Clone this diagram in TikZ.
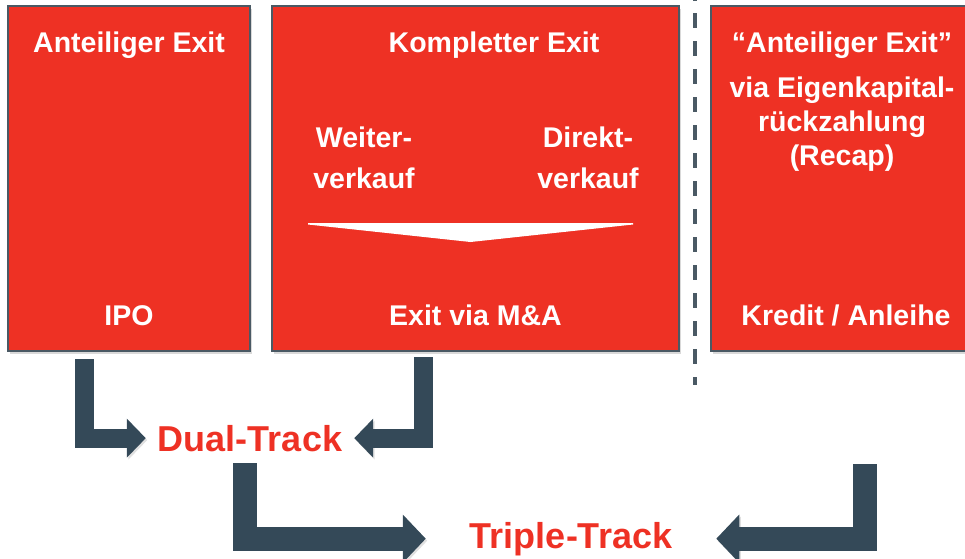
\documentclass[tikz,border=0pt]{standalone}
\usepackage{fontspec}
\setmainfont{Liberation Sans}
\usetikzlibrary{arrows.meta,shadows}

\definecolor{exitred}{RGB}{238,49,36}
\definecolor{exitframe}{RGB}{74,89,100}
\definecolor{trackblue}{RGB}{52,73,88}

\tikzset{
  exitbox/.style={draw=exitframe, line width=1.5pt, fill=exitred,
    minimum height=345pt,
    drop shadow={shadow xshift=1.5pt, shadow yshift=-2.5pt, opacity=0.3}},
  boxtext/.style={text=white, font=\fontsize{28.5}{34}\selectfont\bfseries,
    align=center, inner sep=0pt, anchor=base},
  tracktext/.style={text=exitred, font=\fontsize{36}{40}\selectfont\bfseries,
    inner ysep=0pt, anchor=base},
  track/.style={draw=trackblue, line width=19pt,
    -{Triangle[length=19pt,width=38pt]},
    preaction={draw=black!60, opacity=.2,
      transform canvas={shift={(1.5pt,-2pt)}}}},
  bigtrack/.style={track, line width=24pt,
    -{Triangle[length=23pt,width=47pt]}},
}

\begin{document}
\begin{tikzpicture}[x=1pt, y=-1pt]
  \useasboundingbox (0,0) rectangle (965,558);
  \clip (0,0) rectangle (965,558);

  % exit routes
  \node[exitbox, minimum width=242pt] (ipo) at (129,178.5) {};
  \node[exitbox, minimum width=407pt] (ma) at (475.5,178.5) {};
  \node[exitbox, minimum width=264pt] (recap) at (843,178.5) {};

  % divider
  \draw[exitframe, line width=4pt, dash pattern=on 15pt off 13pt,
    dash phase=14.7pt] (695,0) -- (695,385);

  \node[boxtext] (ipoTop) at ([yshift=-47pt]ipo.north) {Anteiliger Exit};
  \node[boxtext] (ipoBot) at ([yshift=26pt]ipo.south) {IPO};

  % multi-line texts sit on their last baseline
  \node[boxtext] (maTop) at ([xshift=18.5pt,yshift=-47pt]ma.north)
    {Kompletter Exit};
  \node[boxtext, font=\fontsize{28.5}{41}\selectfont\bfseries] (resale)
    at (364,188) {Weiter-\\verkauf};
  \node[boxtext, font=\fontsize{28.5}{41}\selectfont\bfseries] (direct)
    at (588,188) {Direkt-\\verkauf};
  \fill[white] (308,223) -- (633,223) -- (633,224.5) -- (470.5,242)
    -- (308,224.5) -- cycle;
  \node[boxtext] (maBot) at ([yshift=26pt]ma.south) {Exit via M\&A};

  \node[boxtext] (recapTop) at ([xshift=-1pt,yshift=-47pt]recap.north)
    {“Anteiliger Exit”};
  \node[boxtext] (recapMid) at (842,165)
    {via Eigenkapital-\\rückzahlung\\(Recap)};
  \node[boxtext] (recapBot) at ([xshift=3pt,yshift=26pt]recap.south)
    {Kredit / Anleihe};

  % tracks
  \node[tracktext, inner xsep=12pt] (dual) at (250,451) {Dual-Track};
  \node[tracktext, inner xsep=44pt] (triple) at (571,548) {Triple-Track};

  \coordinate (ipoOut) at (84.5,359);
  \coordinate (maOut) at (423,357);
  \coordinate (dualOut) at (245,463);
  \coordinate (recapOut) at (865,464);

  \draw[track] (ipoOut) |- (dual.west);
  \draw[track] (maOut) |- (dual.east);
  \draw[bigtrack] (dualOut) |- (triple.west);
  \draw[bigtrack] (recapOut) |- (triple.east);
\end{tikzpicture}
\end{document}
